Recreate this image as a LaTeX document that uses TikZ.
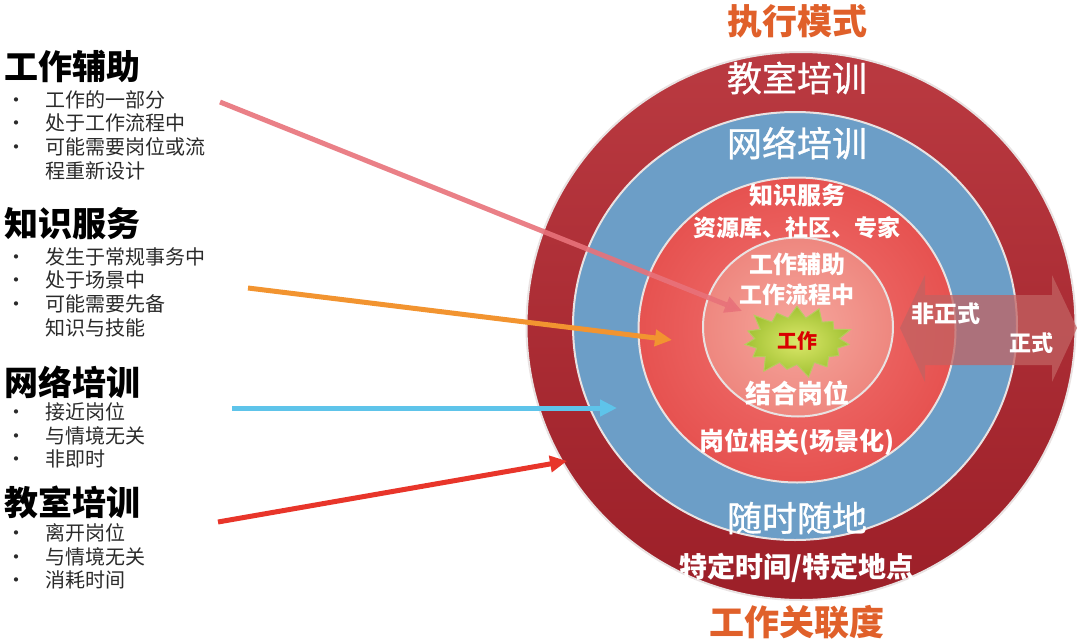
\documentclass[tikz,border=0pt]{standalone}
\usepackage{fontspec}
\setmainfont{Noto Sans CJK SC}
\newfontfamily\ringFont[FakeBold=0.8]{Noto Sans CJK SC}
\usetikzlibrary{shapes.geometric,shapes.symbols,arrows.meta}
\definecolor{ringOuterTop}{HTML}{BA3A41}
\definecolor{ringOuterBot}{HTML}{9C1F28}
\definecolor{ringNet}{HTML}{6C9EC7}
\definecolor{ringKnowIn}{HTML}{F27472}
\definecolor{ringKnowOut}{HTML}{E65250}
\definecolor{ringAidIn}{HTML}{F6A69C}
\definecolor{ringAidOut}{HTML}{EE877F}
\definecolor{ringEdge}{HTML}{E9E2E2}
\definecolor{starIn}{HTML}{DCE86A}
\definecolor{starOut}{HTML}{A2C234}
\definecolor{labelOrange}{HTML}{E0602A}
\definecolor{aidPink}{HTML}{E8727A}
\definecolor{knowOrange}{HTML}{F29430}
\definecolor{netCyan}{HTML}{5EC4EA}
\definecolor{classRed}{HTML}{E8352A}
\definecolor{formalTone}{HTML}{C26262}
\definecolor{listGrey}{HTML}{2A2A2A}
\newcommand{\modeAid}{工作辅助}
\newcommand{\modeKnow}{知识服务}
\newcommand{\modeNet}{网络培训}
\newcommand{\modeClass}{教室培训}

\begin{document}
\begin{tikzpicture}[x=1pt,y=-1pt,
  ring/.style={ellipse, inner sep=0pt, draw=ringEdge, line width=2pt},
  ringText/.style={text=white, inner sep=0pt, font=\fontsize{#1}{#1}\ringFont},
  ringBold/.style={text=white, inner sep=0pt, font=\fontsize{#1}{#1}\selectfont\bfseries},
  axisText/.style={text=labelOrange, inner sep=0pt, font=\fontsize{35}{35}\selectfont\bfseries},
  sideTitle/.style={right, inner sep=0pt, font=\fontsize{34}{40}\selectfont\bfseries},
  sideList/.style={right, inner sep=0pt, text=listGrey, font=\fontsize{20}{23.5}\selectfont},
  feed/.style={line width=5pt, -{Triangle[length=17pt,width=16pt]}}]
\useasboundingbox (0,0) rectangle (1080,643);

%rings
\node[ring, minimum width=549pt, minimum height=548pt, top color=ringOuterTop, bottom color=ringOuterBot] (outerRing) at (801,326) {};
\node[ring, minimum width=444pt, minimum height=428pt, fill=ringNet] (netRing) at (795,326) {};
\node[ring, minimum width=317pt, minimum height=305pt, inner color=ringKnowIn, outer color=ringKnowOut] (knowRing) at (797,330) {};
\node[ring, minimum width=190pt, minimum height=179pt, inner color=ringAidIn, outer color=ringAidOut] (aidRing) at (798,327) {};
\node[starburst, starburst points=15, starburst point height=16pt, inner xsep=10pt, inner ysep=7pt,
      inner color=starIn, outer color=starOut, draw=starOut!80!white, line width=1pt,
      text=red!85!black, font=\fontsize{20}{20}\selectfont\bfseries] (workStar) at (797,341) {工作};

%informal / formal
\fill[formalTone, fill opacity=0.75] (900,328) -- (925,275) -- (925,295) -- (1052,295) -- (1052,275) -- (1077,328)
  -- (1052,382) -- (1052,365) -- (925,365) -- (925,382) -- cycle;
\node[ringBold=23] (informal) at (946,314) {非正式};
\node[ringBold=22] (formal)   at (1031,343) {正式};

%ring labels
\node[axisText]     (modeAxis)   at (797,21)  {执行模式};
\node[ringText=35]  (classLabel) at (797,78)  {\modeClass};
\node[ringText=35]  (netLabel)   at (797,143) {\modeNet};
\node[ringBold=24]  (knowLabel)  at (797,195) {\modeKnow};
\node[ringBold=23]  (knowWhere)  at (797,228) {资源库、社区、专家};
\node[ringBold=24]  (aidLabel)   at (797,264) {\modeAid};
\node[ringBold=23]  (aidWhere)   at (797,295) {工作流程中};
\node[ringBold=26]  (aidJob)     at (797,393) {结合岗位};
\node[ringBold=25]  (knowJob)    at (797,442) {岗位相关(场景化)};
\node[ringText=35]  (netJob)     at (797,518) {随时随地};
\node[ringBold=28]  (classJob)   at (797,568) {特定时间/特定地点};
\node[axisText]     (jobAxis)    at (797,622) {工作关联度};

%side lists
\node[sideTitle] (aidTitle)   at (4,66)  {\modeAid};
\node[sideList]  (aidList)    at (3,138) {\begin{tabular}{@{}p{42pt}@{}l@{}}
  \hspace{3pt}\textbullet & 工作的一部分\\ \hspace{3pt}\textbullet & 处于工作流程中\\
  \hspace{3pt}\textbullet & 可能需要岗位或流\\ & 程重新设计\end{tabular}};
\node[sideTitle] (knowTitle)  at (4,224) {\modeKnow};
\node[sideList]  (knowList)   at (3,295) {\begin{tabular}{@{}p{42pt}@{}l@{}}
  \hspace{3pt}\textbullet & 发生于常规事务中\\ \hspace{3pt}\textbullet & 处于场景中\\
  \hspace{3pt}\textbullet & 可能需要先备\\ & 知识与技能\end{tabular}};
\node[sideTitle] (netTitle)   at (4,382) {\modeNet};
\node[sideList]  (netList)    at (3,438) {\begin{tabular}{@{}p{42pt}@{}l@{}}
  \hspace{3pt}\textbullet & 接近岗位\\ \hspace{3pt}\textbullet & 与情境无关\\
  \hspace{3pt}\textbullet & 非即时\end{tabular}};
\node[sideTitle] (classTitle) at (4,502) {\modeClass};
\node[sideList]  (classList)  at (3,559) {\begin{tabular}{@{}p{42pt}@{}l@{}}
  \hspace{3pt}\textbullet & 离开岗位\\ \hspace{3pt}\textbullet & 与情境无关\\
  \hspace{3pt}\textbullet & 消耗时间\end{tabular}};

%feed arrows
\coordinate (aidFrom)   at (220,102);
\coordinate (aidTo)     at (742,311);
\coordinate (knowFrom)  at (248,288);
\coordinate (knowTo)    at (672,340);
\coordinate (netFrom)   at (232,408);
\coordinate (netTo)     at (617,408);
\coordinate (classFrom) at (218,522);
\coordinate (classTo)   at (567,461);
\draw[feed, aidPink, opacity=0.9] (aidFrom) -- (aidTo);
\draw[feed, knowOrange] (knowFrom) -- (knowTo);
\draw[feed, netCyan] (netFrom) -- (netTo);
\draw[feed, classRed] (classFrom) -- (classTo);
\end{tikzpicture}
\end{document}
